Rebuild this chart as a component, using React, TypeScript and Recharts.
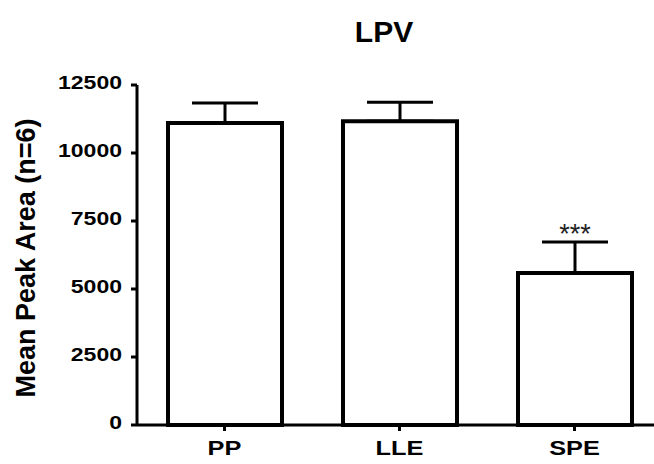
import React from 'react';
import { BarChart, Bar, XAxis, YAxis, ErrorBar, LabelList } from 'recharts';

const categories = ['PP', 'LLE', 'SPE'];
const means = [11100, 11170, 5590];
const sems = [740, 700, 1140];
const significance = ['', '', '***'];
const yTicks = [0, 2500, 5000, 7500, 10000, 12500];

const data = categories.map((name, i) => ({
  name,
  mean: means[i],
  err: [0, sems[i]],
  sig: significance[i],
}));

const font = 'Arial, "Liberation Sans", sans-serif';

// tick text in the source is drawn a bit wider than plain Arial
const YTick = (props: any) => {
  const { x, y, payload } = props;
  return (
    <g transform={`translate(${x},${y})`}>
      <text transform="scale(1.28,1)" textAnchor="end" dy={3.5} fontSize={18} fontWeight="bold" fontFamily={font} fill="#000">
        {payload.value}
      </text>
    </g>
  );
};

const XTick = (props: any) => {
  const { x, y, payload } = props;
  return (
    <g transform={`translate(${x},${y})`}>
      <text transform="scale(1.3,1)" textAnchor="middle" dy={22} fontSize={19.5} fontWeight="bold" fontFamily={font} fill="#000">
        {payload.value}
      </text>
    </g>
  );
};

const StarLabel = (props: any) => {
  const { x, y, width, height, index } = props;
  const label = significance[index];
  if (!label) return null;
  // pixels per unit from the bar's own geometry
  const pxPerUnit = height / means[index];
  const top = y - sems[index] * pxPerUnit;
  return (
    <text x={x + width / 2} y={top + 1} textAnchor="middle" fill="#222" fontSize={27} fontFamily={font}>
      {label}
    </text>
  );
};

const App: React.FC = () => {
  return (
    <div style={{ position: 'absolute', left: 0, top: 0, width: 654, height: 464, overflow: 'hidden', background: '#fff' }}>
      <BarChart
        width={670}
        height={464}
        data={data}
        margin={{ top: 85, right: 8, bottom: 9, left: 0 }}
        barSize={114}
      >
        <text x={384} y={42} textAnchor="middle" fontSize={30} fontWeight="bold" fontFamily={font} fill="#000">
          LPV
        </text>
        <text
          x={0}
          y={0}
          transform="translate(35, 258) rotate(-90)"
          textAnchor="middle"
          fontSize={27}
          fontWeight="bold"
          fontFamily={font}
          fill="#000"
        >
          Mean Peak Area (n=6)
        </text>
        <XAxis
          dataKey="name"
          height={30}
          axisLine={{ stroke: '#000', strokeWidth: 3 }}
          tickLine={{ stroke: '#000', strokeWidth: 3 }}
          tickSize={6}
          tickMargin={2}
          tick={<XTick />}
        />
        <YAxis
          width={137}
          domain={[0, 12500]}
          ticks={yTicks}
          interval={0}
          axisLine={{ stroke: '#000', strokeWidth: 3 }}
          tickLine={{ stroke: '#000', strokeWidth: 3 }}
          tickSize={6}
          tickMargin={9}
          tick={<YTick />}
        />
        <Bar dataKey="mean" fill="#fff" stroke="#000" strokeWidth={4} isAnimationActive={false}>
          <ErrorBar dataKey="err" width={33} stroke="#000" strokeWidth={3} isAnimationActive={false} />
          <LabelList dataKey="sig" content={StarLabel} />
        </Bar>
      </BarChart>
    </div>
  );
};

export default App;
